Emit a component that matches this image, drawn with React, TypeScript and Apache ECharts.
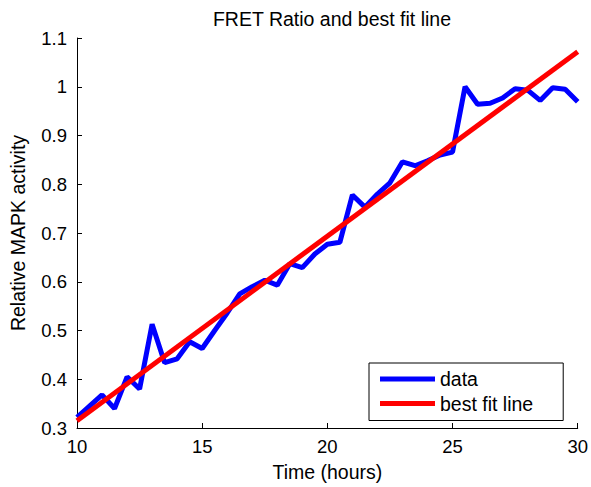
import React, { useEffect, useRef } from "react";
import * as echarts from "echarts";

const timeHours = [
  10, 10.5, 11, 11.5, 12, 12.5, 13, 13.5, 14, 14.5, 15, 15.5, 16, 16.5, 17, 17.5, 18, 18.5, 19, 19.5,
  20, 20.5, 21, 21.5, 22, 22.5, 23, 23.5, 24, 24.5, 25, 25.5, 26, 26.5, 27, 27.5, 28, 28.5, 29, 29.5, 30,
];
const fretData = [
  0.322, 0.345, 0.368, 0.34, 0.405, 0.38, 0.513, 0.434, 0.442, 0.477, 0.463, 0.5, 0.536, 0.575, 0.59,
  0.603, 0.593, 0.637, 0.629, 0.657, 0.677, 0.681, 0.778, 0.753, 0.78, 0.803, 0.846, 0.838, 0.848, 0.86,
  0.866, 1.0, 0.964, 0.966, 0.977, 0.996, 0.993, 0.972, 0.998, 0.995, 0.969,
];
const fitX = [10, 30];
const fitY = [0.315, 1.072];

export default function App() {
  const ref = useRef<HTMLDivElement>(null);
  useEffect(() => {
    const chart = echarts.init(ref.current!, undefined, { renderer: "svg" });
    const font = "Liberation Sans, Arial, sans-serif";
    chart.setOption({
      animation: false,
      backgroundColor: "#ffffff",
      title: {
        text: "FRET Ratio and best fit line",
        left: 327,
        textAlign: "center",
        top: 4,
        textStyle: { fontFamily: font, fontSize: 19.5, fontWeight: "normal", color: "#000" },
      },
      grid: { left: 77, right: 12, top: 38, bottom: 54 },
      legend: {
        orient: "vertical",
        left: 369,
        top: 363,
        padding: [6, 30, 7, 11],
        itemGap: 4.5,
        itemWidth: 55,
        itemHeight: 5,
        borderColor: "#000",
        borderWidth: 1,
        backgroundColor: "#fff",
        textStyle: { fontFamily: font, fontSize: 19.5, color: "#000" },
        data: [
          { name: "data", icon: "rect" },
          { name: "best fit line", icon: "rect" },
        ],
      },
      xAxis: {
        type: "value",
        min: 10,
        max: 30,
        interval: 5,
        name: "Time (hours)",
        nameLocation: "middle",
        nameGap: 34,
        nameTextStyle: { fontFamily: font, fontSize: 19.5, color: "#000" },
        axisLine: { show: true, lineStyle: { color: "#000", width: 1 } },
        axisTick: { show: true, inside: true, length: 5, lineStyle: { color: "#000" } },
        axisLabel: { fontFamily: font, fontSize: 18.5, color: "#000", margin: 9 },
        splitLine: { show: false },
      },
      yAxis: {
        type: "value",
        min: 0.3,
        max: 1.1,
        interval: 0.1,
        name: "Relative MAPK activity",
        nameLocation: "middle",
        nameGap: 49,
        nameTextStyle: { fontFamily: font, fontSize: 19.5, color: "#000" },
        axisLine: { show: true, lineStyle: { color: "#000", width: 1 } },
        axisTick: { show: true, inside: true, length: 5, lineStyle: { color: "#000" } },
        axisLabel: {
          fontFamily: font,
          fontSize: 18.5,
          color: "#000",
          margin: 10,
          formatter: (v: number) => String(Math.round(v * 10) / 10),
        },
        splitLine: { show: false },
      },
      series: [
        {
          name: "data",
          type: "line",
          data: timeHours.map((t, i) => [t, fretData[i]]),
          showSymbol: false,
          symbol: "none",
          lineStyle: { color: "#0000ff", width: 5 },
          itemStyle: { color: "#0000ff" },
        },
        {
          name: "best fit line",
          type: "line",
          data: fitX.map((t, i) => [t, fitY[i]]),
          showSymbol: false,
          symbol: "none",
          lineStyle: { color: "#ff0000", width: 5 },
          itemStyle: { color: "#ff0000" },
        },
      ],
    });
    return () => chart.dispose();
  }, []);
  return <div ref={ref} style={{ width: 591, height: 487, position: "absolute", left: 0, top: 0 }} />;
}
